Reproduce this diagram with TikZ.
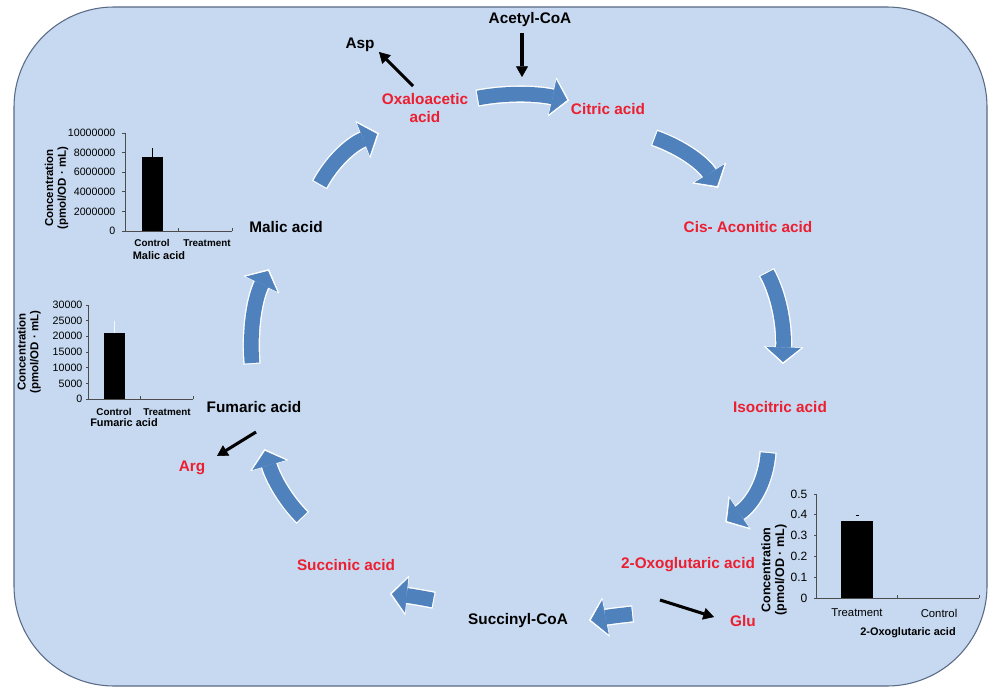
\documentclass[tikz,border=0pt]{standalone}
\usepackage{fontspec}
\setmainfont{Liberation Sans}
\usetikzlibrary{arrows.meta}
\usetikzlibrary{calc}

\definecolor{panelfill}{RGB}{198,217,240}
\definecolor{paneledge}{RGB}{88,106,134}
\definecolor{cycleblue}{RGB}{79,129,189}
\definecolor{acidred}{RGB}{236,30,48}

\begin{document}
\begin{tikzpicture}[x=0.75pt, y=-0.75pt,
    acid/.style={font=\fontsize{11.5}{12.8}\selectfont\bfseries, text=acidred, align=center, inner sep=1pt},
    other/.style={acid, text=black},
    cyclearrow/.style={draw=cycleblue, line width=11pt,
        -{Triangle[length=11pt, width=26pt, line width=0.4pt]}},
    halo/.style={draw=white, line width=13pt, shorten >=-1.6pt, shorten <=-0.8pt,
        -{Triangle[length=13pt, width=30pt, line width=0.4pt]}},
    sidearrow/.style={draw=black, line width=2.3pt,
        -{Triangle[length=8pt, width=9pt, line width=0.4pt]}},
    axis/.style={draw=black!70, line width=0.6pt},
    ticklabel/.style={anchor=east, inner sep=1pt, font=\fontsize{8}{9}\selectfont},
    catlabel/.style={inner sep=1pt, font=\fontsize{7.4}{9}\selectfont\bfseries},
    chartname/.style={inner sep=1pt, font=\fontsize{8.2}{9}\selectfont\bfseries},
    conclabel/.style={rotate=90, align=center, inner sep=1pt,
        font=\fontsize{8.6}{9.6}\selectfont\bfseries}]

    \useasboundingbox (0, 0) rectangle (994, 688);
    \draw[paneledge, fill=panelfill, line width=0.8pt, rounded corners=75pt]
        (14, 7) rectangle (987, 686);

    % metabolites
    \node[other] (acetyl) at (530, 20) {Acetyl-CoA};
    \node[other] (asp) at (360, 45) {Asp};
    \node[acid] (oaa) at (425, 108) {Oxaloacetic\\acid};
    \node[acid] (cit) at (608, 109) {Citric acid};
    \node[acid] (cis) at (748, 227) {Cis- Aconitic acid};
    \node[acid] (iso) at (780, 407) {Isocitric acid};
    \node[acid] (oxo) at (688, 565) {2-Oxoglutaric acid};
    \node[acid] (glu) at (743, 621) {Glu};
    \node[other] (sca) at (518, 621) {Succinyl-CoA};
    \node[acid] (suc) at (346, 565) {Succinic acid};
    \node[other] (fum) at (254, 407) {Fumaric acid};
    \node[acid] (arg) at (192, 468) {Arg};
    \node[other] (mal) at (286, 227) {Malic acid};

    % cycle arrows
    \coordinate (oaa-out) at (478, 98);   \coordinate (oaa-bow) at (520, 90);   \coordinate (cit-in) at (567, 100);
    \coordinate (cit-out) at (655, 138);  \coordinate (cit-bow) at (697, 153);  \coordinate (cis-in) at (717, 186);
    \coordinate (cis-out) at (767, 273);  \coordinate (cis-bow) at (785, 306);  \coordinate (iso-in) at (783, 362);
    \coordinate (iso-out) at (768, 453);  \coordinate (iso-bow) at (765, 496);  \coordinate (oxo-in) at (727, 521);
    \coordinate (oxo-out) at (632, 614);  \coordinate (oxo-bow) at (612, 616);  \coordinate (sca-in) at (591, 620);
    \coordinate (sca-out) at (433, 600);  \coordinate (sca-bow) at (413, 596);  \coordinate (suc-in) at (392, 594);
    \coordinate (suc-out) at (302, 517);  \coordinate (suc-bow) at (277, 492);  \coordinate (fum-in) at (265, 451);
    \coordinate (fum-out) at (252, 363);  \coordinate (fum-bow) at (248, 312);  \coordinate (mal-in) at (268, 271);
    \coordinate (mal-out) at (320, 184);  \coordinate (mal-bow) at (339, 149);  \coordinate (oaa-in) at (377, 134);

    \foreach \a/\b in {oaa/cit, cit/cis, cis/iso, iso/oxo, oxo/sca, sca/suc, suc/fum, fum/mal, mal/oaa} {
        \draw[halo] (\a-out) .. controls ($(\a-out)!2/3!(\a-bow)$) and ($(\b-in)!2/3!(\a-bow)$) .. (\b-in);
        \draw[cyclearrow] (\a-out) .. controls ($(\a-out)!2/3!(\a-bow)$) and ($(\b-in)!2/3!(\a-bow)$) .. (\b-in);
    }

    % side branches
    \coordinate (acetyl-from) at ($(acetyl)+(-8, 13)$);
    \coordinate (acetyl-to) at ($(acetyl)+(-8, 57)$);
    \coordinate (asp-from) at ($(oaa)+(-12, -22)$);
    \coordinate (asp-to) at ($(asp)+(19, 7)$);
    \coordinate (arg-from) at ($(fum)+(2, 25)$);
    \coordinate (arg-to) at ($(arg)+(25, -12)$);
    \coordinate (glu-from) at ($(oxo)+(-28, 35)$);
    \coordinate (glu-to) at ($(glu)+(-29, -4)$);
    \draw[sidearrow] (acetyl-from) -- (acetyl-to);
    \draw[sidearrow] (asp-from) -- (asp-to);
    \draw[sidearrow] (arg-from) -- (arg-to);
    \draw[sidearrow] (glu-from) -- (glu-to);

    % malic acid chart
    \begin{scope}[shift={(125, 231)}]
        \newcommand\malstep{19.6}
        \draw[axis] (0, -98) -- (0, 0) -- (107, 0);
        \foreach \v [count=\k from 0] in {0, 2000000, 4000000, 6000000, 8000000, 10000000} {
            \draw[axis] (0, -\k*\malstep) -- ++(-3, 0);
            \node[ticklabel] (mal-t\k) at (-8, -\k*\malstep) {\v};
        }
        \draw[axis] (53.5, 0) -- ++(0, -3) (107, 0) -- ++(0, -3);
        \fill (17, 0) rectangle (38, -74.5);
        \draw[line width=0.6pt] (27.5, -74.5) -- (27.5, -83.5);
        \node[catlabel] (mal-ctl) at (27, 12) {Control};
        \node[catlabel] (mal-trt) at (82, 12) {Treatment};
        \node[chartname] (mal-name) at (34, 25) {Malic acid};
        \node[conclabel] (mal-conc) at (-68.5, -43) {Concentration\\(pmol/OD · mL)};
    \end{scope}

    % fumaric acid chart
    \begin{scope}[shift={(88, 399)}]
        \newcommand\fumstep{15.67}
        \draw[axis] (0, -94) -- (0, 0) -- (105, 0);
        \foreach \v [count=\k from 0] in {0, 5000, 10000, 15000, 20000, 25000, 30000} {
            \draw[axis] (0, -\k*\fumstep) -- ++(-2, 0);
            \node[ticklabel] (fum-t\k) at (-4, -\k*\fumstep) {\v};
        }
        \draw[axis] (52.5, 0) -- ++(0, -3) (105, 0) -- ++(0, -3);
        \fill (16, 0) rectangle (37, -65.8);
        \draw[white!80!panelfill, line width=0.6pt] (26.5, -65.8) -- (26.5, -78.3);
        \node[catlabel] (fum-ctl) at (26, 13) {Control};
        \node[catlabel] (fum-trt) at (79, 13) {Treatment};
        \node[chartname] (fum-name) at (36, 24) {Fumaric acid};
        \node[conclabel] (fum-conc) at (-59, -47) {Concentration\\(pmol/OD · mL)};
    \end{scope}

    % 2-oxoglutaric acid chart
    \begin{scope}[shift={(816, 598)}]
        \newcommand\oxostep{20.8}
        \draw[axis] (0, -104) -- (0, 0) -- (163, 0);
        \foreach \v [count=\k from 0] in {0, 0.1, 0.2, 0.3, 0.4, 0.5} {
            \draw[axis] (0, -\k*\oxostep) -- ++(-2, 0);
            \node[ticklabel, font=\fontsize{9}{10}\selectfont] (oxo-t\k) at (-7, -\k*\oxostep) {\v};
        }
        \draw[axis] (81.5, 0) -- ++(0, -3) (163, 0) -- ++(0, -3);
        \fill (25, 0) rectangle (57, -77);
        \draw[line width=0.6pt] (39.5, -83) -- (42.5, -83);
        \node[catlabel, font=\fontsize{8.5}{9}\selectfont] (oxo-trt) at (41, 15) {Treatment};
        \node[catlabel, font=\fontsize{8.5}{9}\selectfont] (oxo-ctl) at (123, 15) {Control};
        \node[chartname] (oxo-name) at (92, 35) {2-Oxoglutaric acid};
        \node[conclabel, font=\fontsize{9.4}{10.4}\selectfont\bfseries] (oxo-conc) at (-42, -28) {Concentration\\(pmol/OD · mL)};
    \end{scope}
\end{tikzpicture}
\end{document}
